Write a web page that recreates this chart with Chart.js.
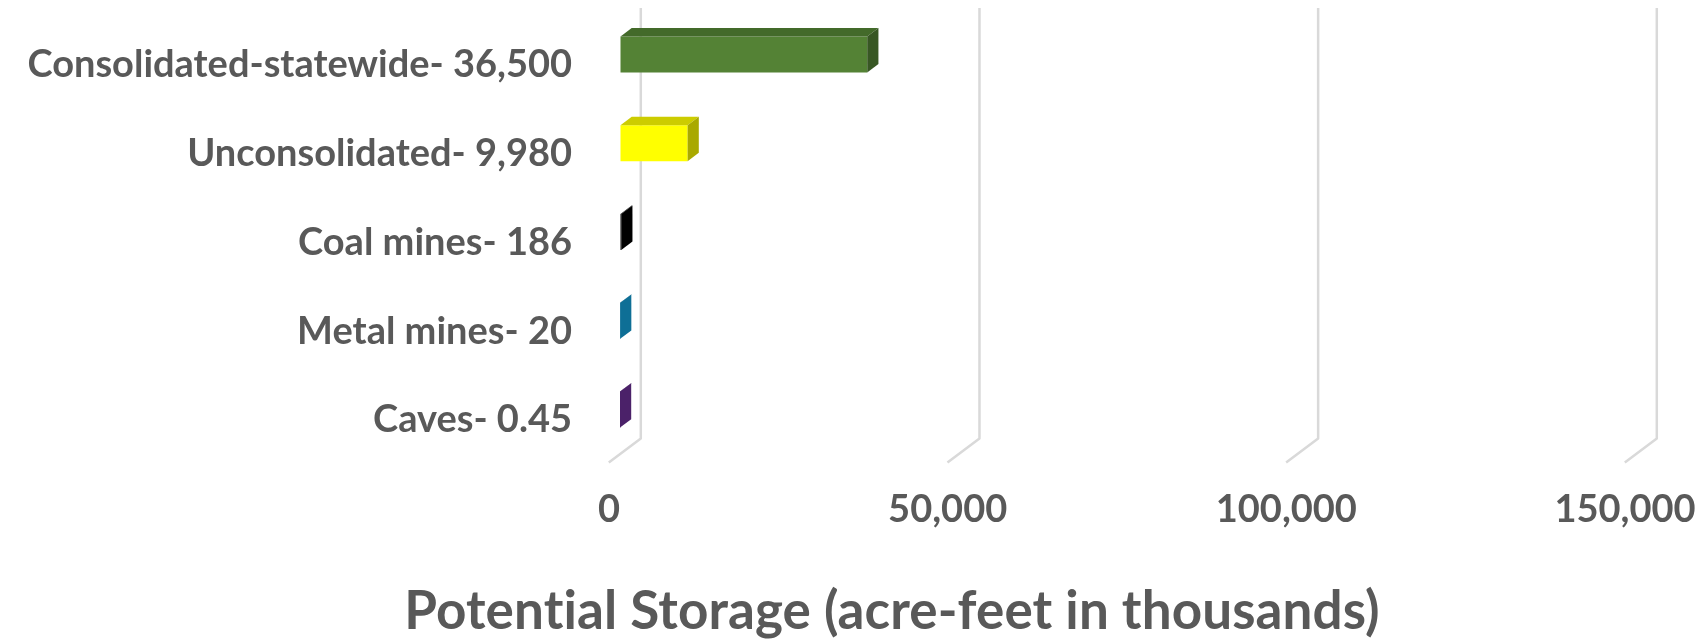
<!DOCTYPE html>
<html>
<head>
<meta charset="utf-8">
<script src="https://cdn.jsdelivr.net/npm/chart.js@4.4.1/dist/chart.umd.min.js"></script>
<style>
  html, body { margin: 0; padding: 0; background: #fff; }
  #wrap { width: 1700px; height: 641px; }
</style>
</head>
<body>
<div id="wrap"><canvas id="storageChart"></canvas></div>
<script>
var categories = ['Consolidated-statewide- 36,500', 'Unconsolidated- 9,980', 'Coal mines- 186', 'Metal mines- 20', 'Caves- 0.45'];
var storage = [36500, 9980, 186, 20, 0.45];
var xTicks = [0, 50000, 100000, 150000];
var axisTitle = 'Potential Storage (acre-feet in thousands)';

var frontColors = ['#548235', '#ffff00', '#000000', '#0e6f96', '#4b2169'];
var topColors = ['#436a2a', '#cccc00', '#000000', '#0b5a7a', '#3c1a55'];
var sideColors = ['#385724', '#a9a900', '#000000', '#0e6f96', '#4b2169'];

var textGray = '#595959';
var gridGray = '#d9d9d9';

// 3d offsets, bar front plane is the chart area
var toFloorFront = { x: -11.2, y: 8.4 };
var toBackWall = { x: 20.8, y: -15.6 };
var barDepth = { x: 11.2, y: -8.4 };

var fake3d = {
  id: 'fake3d',
  beforeDatasetsDraw: function (chart) {
    var ctx = chart.ctx;
    var area = chart.chartArea;
    var xs = chart.scales.x;
    ctx.save();
    ctx.strokeStyle = gridGray;
    ctx.lineWidth = 2.5;
    ctx.lineJoin = 'round';
    xTicks.forEach(function (v) {
      var x = xs.getPixelForValue(v);
      ctx.beginPath();
      ctx.moveTo(x + toFloorFront.x, area.bottom + toFloorFront.y);
      ctx.lineTo(x + toBackWall.x, area.bottom + toBackWall.y);
      ctx.lineTo(x + toBackWall.x, area.top - 2);
      ctx.stroke();
    });
    ctx.restore();
  },
  afterDatasetsDraw: function (chart) {
    var ctx = chart.ctx;
    var meta = chart.getDatasetMeta(0);
    ctx.save();
    meta.data.forEach(function (bar, i) {
      var left = bar.base, right = bar.x;
      var top = bar.y - bar.height / 2, bottom = bar.y + bar.height / 2;
      // top face
      ctx.fillStyle = topColors[i];
      ctx.beginPath();
      ctx.moveTo(left, top);
      ctx.lineTo(left + barDepth.x, top + barDepth.y);
      ctx.lineTo(right + barDepth.x, top + barDepth.y);
      ctx.lineTo(right, top);
      ctx.closePath();
      ctx.fill();
      // side face
      ctx.fillStyle = sideColors[i];
      ctx.beginPath();
      ctx.moveTo(right, top);
      ctx.lineTo(right + barDepth.x, top + barDepth.y);
      ctx.lineTo(right + barDepth.x, bottom + barDepth.y);
      ctx.lineTo(right, bottom);
      ctx.closePath();
      ctx.fill();
    });
    ctx.restore();
  },
  afterDraw: function (chart) {
    // axis title sits off-centre in the original, so draw it here
    var ctx = chart.ctx;
    ctx.save();
    ctx.fillStyle = textGray;
    ctx.font = 'bold 53px Lato';
    ctx.letterSpacing = '0.1px'; // stops the "ti" ligature
    ctx.textAlign = 'center';
    ctx.textBaseline = 'middle';
    ctx.fillText(axisTitle, 892, 612);
    ctx.restore();
  }
};

var ctx = document.getElementById('storageChart');

var chart = new Chart(ctx, {
  type: 'bar',
  data: {
    labels: categories,
    datasets: [{
      label: 'Potential Storage',
      data: storage,
      backgroundColor: frontColors,
      borderWidth: 0,
      barPercentage: 0.405,
      categoryPercentage: 1
    }]
  },
  options: {
    indexAxis: 'y',
    responsive: true,
    maintainAspectRatio: false,
    animation: false,
    layout: {
      padding: { left: 0, right: 64, top: 10, bottom: 60 }
    },
    plugins: {
      legend: { display: false },
      tooltip: { enabled: false },
      title: { display: false }
    },
    scales: {
      x: {
        min: 0,
        max: 150000,
        grid: { display: true, color: 'rgba(0,0,0,0)', drawOnChartArea: false, drawTicks: true, tickLength: 33 },
        border: { display: false },
        afterBuildTicks: function (axis) {
          axis.ticks = xTicks.map(function (v) { return { value: v }; });
        },
        afterFit: function (scale) {
          scale.height = 127;
          scale.paddingLeft = 0;
          scale.paddingRight = 0;
        },
        ticks: {
          color: textGray,
          font: { family: 'Lato', size: 38, weight: 'bold' },
          padding: 0,
          labelOffset: -11,
          maxRotation: 0,
          callback: function (v) { return Number(v).toLocaleString('en-US'); }
        }
      },
      y: {
        grid: { display: false },
        border: { display: false },
        afterFit: function (scale) {
          scale.width = 620;
          scale.paddingTop = 0;
          scale.paddingBottom = 0;
        },
        ticks: {
          color: textGray,
          font: { family: 'Lato', size: 38, weight: 'bold' },
          padding: 40,
          labelOffset: 10.5
        }
      }
    }
  },
  plugins: [fake3d]
});
</script>
</body>
</html>
